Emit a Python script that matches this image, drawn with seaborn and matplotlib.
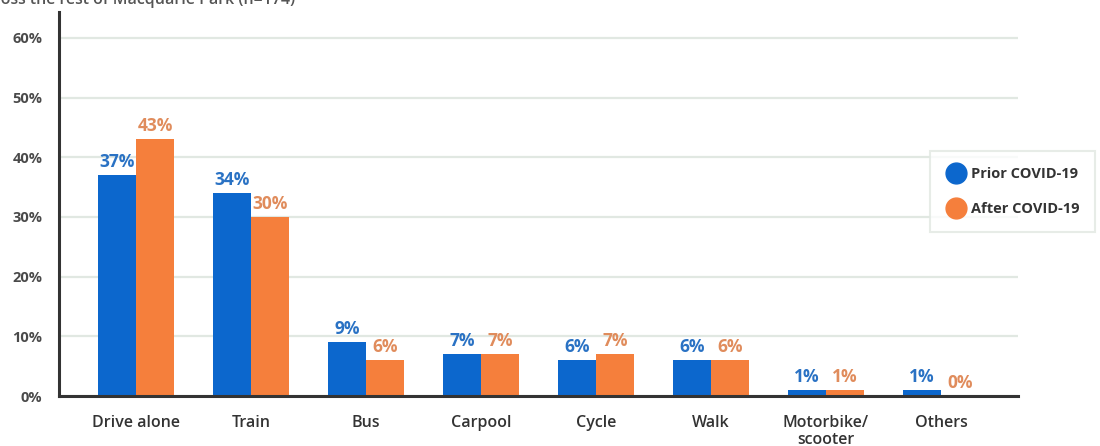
import matplotlib
matplotlib.use("Agg")
import matplotlib.pyplot as plt
from matplotlib.lines import Line2D
from matplotlib.ticker import FuncFormatter
import pandas as pd
import seaborn as sns

# Commute mode shares, before and after COVID-19 (percent)
modes = ["Drive alone", "Train", "Bus", "Carpool", "Cycle", "Walk",
         "Motorbike/\nscooter", "Others"]
prior_covid = [37, 34, 9, 7, 6, 6, 1, 1]
after_covid = [43, 30, 6, 7, 7, 6, 1, 0]
periods = ["Prior COVID-19", "After COVID-19"]
y_ticks = [0, 10, 20, 30, 40, 50, 60]

BLUE = "#0c67cd"
ORANGE = "#f57f3c"
BLUE_TXT = "#2a72c4"
ORANGE_TXT = "#e08c5c"
GRID = "#e1e8e2"
DARK = "#333333"

df = pd.DataFrame({
    "mode": modes * 2,
    "share": prior_covid + after_covid,
    "period": [periods[0]] * len(modes) + [periods[1]] * len(modes),
})

sns.set_theme(style="white")
plt.rcParams["font.family"] = ["Open Sans", "DejaVu Sans"]

fig = plt.figure(figsize=(11, 4.46), dpi=100)
ax = fig.add_axes([0.0536, 0.1121, 0.8718, 0.861])

sns.barplot(data=df, x="mode", y="share", hue="period", order=modes,
            hue_order=periods, palette=[BLUE, ORANGE], width=0.66,
            saturation=1, gap=0, linewidth=0, ax=ax, legend=False)

ax.set_xlim(-0.67, len(modes) - 1 + 0.67)
ax.set_ylim(0, 64.35)
ax.set_yticks(y_ticks)
ax.yaxis.set_major_formatter(FuncFormatter(lambda v, _: f"{v:.0f}%"))
ax.set_xlabel("")
ax.set_ylabel("")

ax.grid(axis="y", color=GRID, linewidth=1.6)
ax.set_axisbelow(True)
for side in ("top", "right"):
    ax.spines[side].set_visible(False)
for side in ("left", "bottom"):
    ax.spines[side].set_color(DARK)
    ax.spines[side].set_linewidth(2.2)

ax.tick_params(axis="y", which="major", length=8, width=1.6, color=GRID,
               pad=4, labelsize=10.5, labelcolor="#4a4a4a")
ax.tick_params(axis="x", length=0, pad=14, labelsize=11.5, labelcolor=DARK)
ax.yaxis.get_major_ticks()[0].tick1line.set_color(DARK)
ax.yaxis.get_major_ticks()[0].tick1line.set_markeredgewidth(2.2)
for lbl in ax.get_yticklabels():
    lbl.set_fontweight("bold")
for lbl in ax.get_xticklabels():
    lbl.set_fontweight("semibold")
    lbl.set_linespacing(1.05)

for container, col in zip(ax.containers, [BLUE_TXT, ORANGE_TXT]):
    ax.bar_label(container, labels=[f"{v:.0f}%" for v in container.datavalues],
                 padding=3, color=col, fontsize=12.5, fontweight="bold")

handles = [Line2D([], [], marker="o", linestyle="none", markersize=15,
                  markerfacecolor=c, markeredgecolor=c) for c in (BLUE, ORANGE)]
leg = fig.legend(handles, periods, loc="upper left",
                 bbox_to_anchor=(0.8455, 0.661), bbox_transform=fig.transFigure,
                 borderaxespad=0, frameon=True, fancybox=False,
                 handlelength=1.4, handletextpad=0.3, labelspacing=1.4,
                 borderpad=1.1, fontsize=10.5)
leg.get_frame().set_edgecolor(GRID)
leg.get_frame().set_linewidth(1.5)
for t in leg.get_texts():
    t.set_fontweight("bold")
    t.set_color(DARK)

fig.text(-0.021, 1.0, "across the rest of Macquarie Park (n=174)", va="center",
         ha="left", fontsize=11.5, color="#555555", fontweight="semibold")

fig.savefig("out.png", dpi=100, facecolor="white")
